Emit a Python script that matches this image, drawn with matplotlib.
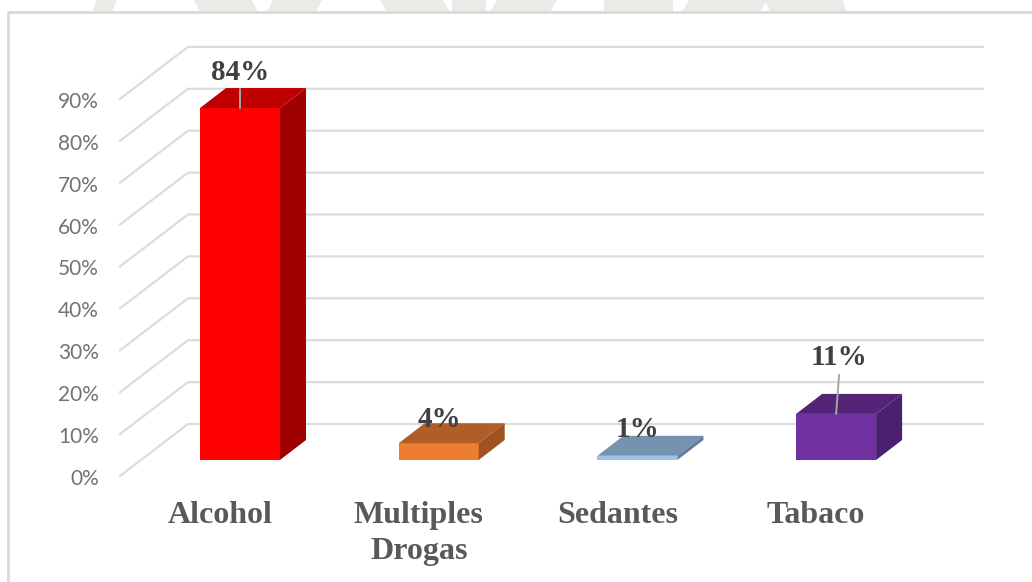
import numpy as np
import matplotlib.pyplot as plt
from matplotlib.patches import Polygon

categorias = ['Alcohol', 'Multiples\nDrogas', 'Sedantes', 'Tabaco']
valores = [84, 4, 1, 11]
etiquetas = ['84%', '4%', '1%', '11%']
marcas = [0, 10, 20, 30, 40, 50, 60, 70, 80, 90]

frente = ['#ff0000', '#ed7d31', '#9dc3e6', '#7030a0']
arriba = ['#c00000', '#b25d25', '#7593b0', '#542478']
lado = ['#a00000', '#9e5321', '#5f7c99', '#4a2070']

# escala: 1 categoria = 198.7 px, 1% = 4.19 px
PX_X = 198.7
PX_Y = 4.19
ancho = 80 / PX_X
prof_x = 26 / PX_X
prof_y = 20 / PX_Y
base = 16 / PX_Y          # la base de las barras esta 16 px sobre el 0% de la pared frontal
x0_pared = (120 - 240) / PX_X
x1_pared = (188 - 240) / PX_X
x2_pared = (983 - 240) / PX_X
alto_pared = 52 / PX_Y

fig = plt.figure(figsize=(10.32, 5.82), dpi=100)
ax = fig.add_axes([0, 0, 1, 1])
ax.set_xlim(-240 / PX_X, (1032 - 240) / PX_X)
ax.set_ylim((476 - 582) / PX_Y, 476 / PX_Y)
ax.axis('off')

# marca de agua que asoma sobre el marco (fondo de la pagina, en px de la imagen)
trozos = [(92, 112, 5), (200, 258, -6), (267, 316, 6), (387, 450, -7), (452, 486, 0),
          (490, 550, 7), (604, 673, 0), (682, 760, 7), (770, 847, -5)]
for a, b, s in trozos:
    xs = [(p - 240) / PX_X for p in (a, b, b + s, a + s)]
    ys = [464 / PX_Y, 464 / PX_Y, 476 / PX_Y, 476 / PX_Y]
    ax.add_patch(Polygon(list(zip(xs, ys)), fc='#e8ebe6', ec='none', zorder=0))

# marco del grafico
ax.plot([-232 / PX_X, -232 / PX_X, 792 / PX_X], [-30, 464 / PX_Y, 464 / PX_Y],
        color='#d9d9d9', lw=2, zorder=1)

# paredes
for m in marcas:
    ax.plot([x0_pared, x1_pared, x2_pared], [m, m + alto_pared, m + alto_pared],
            color='#dcdcdc', lw=1.6, zorder=2)
    ax.text(x0_pared - 21 / PX_X, m - 3 / PX_Y, f'{m}%', ha='right', va='center',
            fontsize=15, color='#737373', family='Lato', zorder=5)

# barras 3d
for i, v in enumerate(valores):
    x1 = i - ancho / 2
    x2 = i + ancho / 2
    y1 = base
    y2 = base + v
    ax.add_patch(Polygon([(x1, y1), (x2, y1), (x2, y2), (x1, y2)], fc=frente[i], ec='none', zorder=3))
    ax.add_patch(Polygon([(x1, y2), (x2, y2), (x2 + prof_x, y2 + prof_y), (x1 + prof_x, y2 + prof_y)],
                         fc=arriba[i], ec='none', zorder=3))
    ax.add_patch(Polygon([(x2, y1), (x2 + prof_x, y1 + prof_y), (x2 + prof_x, y2 + prof_y), (x2, y2)],
                         fc=lado[i], ec='none', zorder=3))

# etiquetas de datos, desplazadas en px desde el borde superior de cada barra
desp = [(0, 36), (1, 24), (0, 26), (3, 56)]
for i, v in enumerate(valores):
    ax.annotate(etiquetas[i], xy=(i, base + v), xytext=desp[i], textcoords='offset pixels',
                ha='center', va='center', fontsize=21, fontweight='bold', color='#404040',
                family='Liberation Serif', zorder=6)

# lineas guia de 84% y 11%
ax.annotate('', xy=(0, base + valores[0]), xytext=(0, 19), textcoords='offset pixels',
            arrowprops=dict(arrowstyle='-', color='#a6a6a6', lw=1.4, shrinkA=0, shrinkB=0), zorder=5)
ax.annotate('', xy=(3, base + valores[3]), xytext=(3, 39), textcoords='offset pixels',
            arrowprops=dict(arrowstyle='-', color='#a6a6a6', lw=1.4, shrinkA=0, shrinkB=0), zorder=5)

# categorias
for i, c in enumerate(categorias):
    ax.text(i - 20 / PX_X, -(501 - 476) / PX_Y, c, ha='center', va='top', fontsize=23,
            fontweight='bold', color='#595959', family='Liberation Serif', linespacing=1.31)

fig.savefig('out.png', dpi=100)
